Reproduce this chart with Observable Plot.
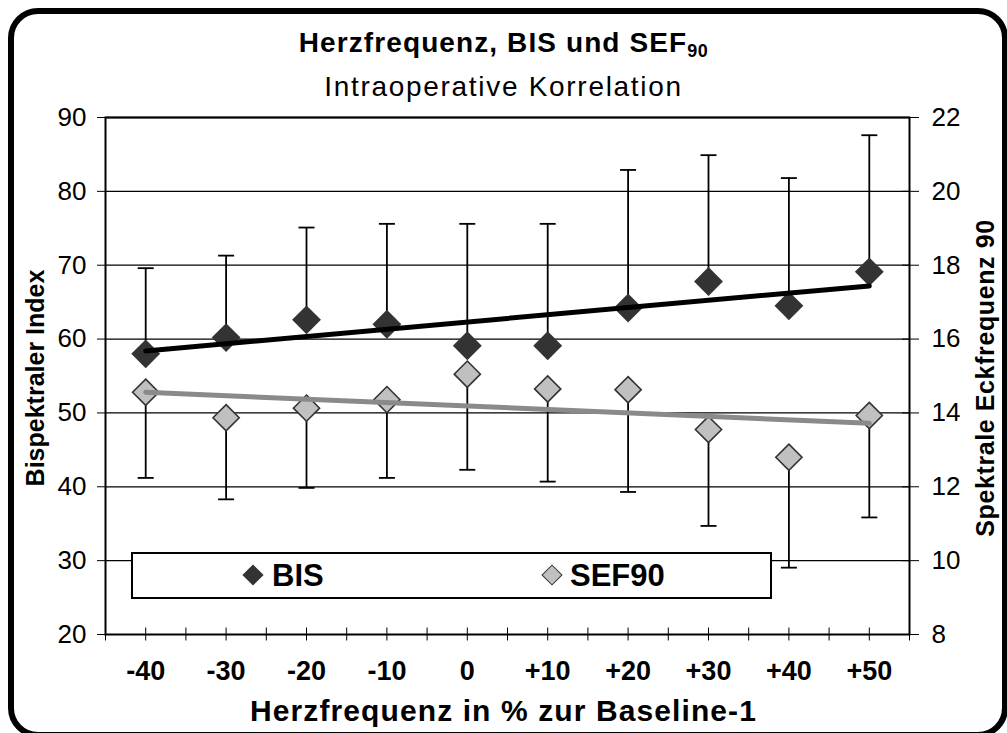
<!DOCTYPE html>
<html>
<head>
<meta charset="utf-8">
<script src="https://cdn.jsdelivr.net/npm/d3@7"></script>
<script src="https://cdn.jsdelivr.net/npm/@observablehq/plot@0.6"></script>
<style>
  html, body { margin: 0; padding: 0; background: #fff; }
  #wrap { position: relative; width: 1007px; height: 733px; overflow: hidden; font-family: "Liberation Sans", Arial, sans-serif; color: #000; }
  #chart { position: absolute; left: 0; top: 0; }
  .abs { position: absolute; white-space: nowrap; }
  #frame { position: absolute; left: 8px; top: 8px; width: 1000px; height: 730px; box-sizing: border-box; border: 6px solid #000; border-radius: 30px; pointer-events: none; }
  #title { left: 0; width: 1007px; text-align: center; top: 27px; font-size: 28px; font-weight: bold; letter-spacing: 1.1px; }
  #title sub { font-size: 18px; vertical-align: baseline; position: relative; top: 5px; letter-spacing: 0.5px; }
  #subtitle { left: 0; width: 1007px; text-align: center; top: 71px; font-size: 28px; letter-spacing: 1.7px; }
  #xtitle { left: 0; width: 1007px; text-align: center; top: 694px; font-size: 30px; font-weight: bold; letter-spacing: 1.1px; }
  .ytitle { font-size: 25px; font-weight: bold; transform: translate(-50%, -50%) rotate(-90deg); }
  #legend { left: 131px; top: 552px; width: 641px; height: 47px; box-sizing: border-box; border: 2px solid #000; background: #fff; }
  .ldia { position: absolute; width: 15px; height: 15px; transform: translate(-50%, -50%) rotate(45deg); box-sizing: border-box; }
  .ltxt { position: absolute; top: 50%; transform: translateY(-50%); font-size: 31px; font-weight: bold; }
</style>
</head>
<body>
<div id="wrap">
  <div id="chart"></div>
  <div class="abs" id="title">Herzfrequenz, BIS und SEF<sub>90</sub></div>
  <div class="abs" id="subtitle">Intraoperative Korrelation</div>
  <div class="abs" id="xtitle">Herzfrequenz in % zur Baseline-1</div>
  <div class="abs ytitle" style="left:35px; top:378px;">Bispektraler Index</div>
  <div class="abs ytitle" style="left:985px; top:378px; letter-spacing: 0.6px;">Spektrale Eckfrequenz 90</div>
  <div class="abs" id="legend">
    <div class="ldia" style="left:120px; top:21px; background:#333;"></div>
    <div class="ltxt" style="left:139px;">BIS</div>
    <div class="ldia" style="left:419px; top:21px; background:#c0c0c0; border:1.5px solid #333;"></div>
    <div class="ltxt" style="left:437px;">SEF90</div>
  </div>
  <div id="frame"></div>
</div>
<script>
// Categories: heart rate change in % vs baseline-1
const hrChange = [-40, -30, -20, -10, 0, 10, 20, 30, 40, 50];
// Bispektraler Index (left axis): mean and upper error bar end
const bisMean = [58.0, 60.2, 62.6, 62.0, 59.1, 59.1, 64.2, 67.8, 64.5, 69.1];
const bisUpper = [69.6, 71.3, 75.1, 75.6, 75.6, 75.6, 82.9, 84.9, 81.8, 87.6];
// Spektrale Eckfrequenz 90 (right axis): mean and lower error bar end
const sefMean = [14.56, 13.87, 14.13, 14.36, 15.05, 14.65, 14.63, 13.55, 12.80, 13.93];
const sefLower = [12.24, 11.66, 11.97, 12.24, 12.46, 12.14, 11.86, 10.94, 9.81, 11.17];
// Linear trend lines (endpoints)
const trendX = [-40, 50];
const bisTrend = [58.4, 67.2];
const sefTrend = [14.56, 13.72];
// Axis ticks
const leftTicks = [20, 30, 40, 50, 60, 70, 80, 90];
const rightTicks = [8, 10, 12, 14, 16, 18, 20, 22];
const xLabelTicks = [-40, -30, -20, -10, 0, 10, 20, 30, 40, 50];
const xMinorTicks = d3.range(-45, 56, 5);

// map right-axis (SEF) values onto left-axis (BIS) scale: 8..22 <-> 20..90
const sefToLeft = v => 20 + (v - 8) * 5;
const leftToSef = v => 8 + (v - 20) / 5;

const idx = d3.range(hrChange.length);
const capSymbol = { draw(ctx) { ctx.moveTo(-8, 0); ctx.lineTo(8, 0); } };

const chart = Plot.plot({
  width: 1007,
  height: 733,
  marginLeft: 105,
  marginRight: 98,
  marginTop: 117,
  marginBottom: 99,
  style: { fontFamily: "'Liberation Sans', Arial, sans-serif", fontSize: "26px", color: "#000", background: "transparent", overflow: "visible" },
  x: { domain: [-45, 55], label: null },
  y: { domain: [20, 90], label: null },
  marks: [
    Plot.ruleY(leftTicks.slice(1), { stroke: "#000", strokeWidth: 1.3 }),
    Plot.frame({ stroke: "#000", strokeWidth: 2 }),
    // left axis
    Plot.axisY({ anchor: "left", ticks: leftTicks, tickSize: 8, tickPadding: 11, tickFormat: d => String(d), fontSize: 26, label: null }),
    // right axis (crossing ticks)
    Plot.axisY({ anchor: "right", ticks: rightTicks.map(sefToLeft), tickSize: 17, dx: -8, tickPadding: 13, tickFormat: d => String(Math.round(leftToSef(d))), fontSize: 26, label: null }),
    // x axis crossing minor ticks
    Plot.axisX({ anchor: "bottom", ticks: xMinorTicks, tickSize: 13, dy: -6.5, tickFormat: () => "", label: null }),
    // x labels
    Plot.axisX({ anchor: "bottom", ticks: xLabelTicks, tickSize: 0, tickPadding: 26, tickFormat: d => d > 0 ? "+" + d : String(d), fontSize: 27, fontWeight: "bold", label: null }),
    // BIS error bars (upward)
    Plot.ruleX(idx, { x: i => hrChange[i], y1: i => bisMean[i], y2: i => bisUpper[i], stroke: "#000", strokeWidth: 1.8 }),
    Plot.dot(idx, { x: i => hrChange[i], y: i => bisUpper[i], symbol: capSymbol, stroke: "#000", strokeWidth: 1.8, fill: "none" }),
    // SEF error bars (downward)
    Plot.ruleX(idx, { x: i => hrChange[i], y1: i => sefToLeft(sefMean[i]), y2: i => sefToLeft(sefLower[i]), stroke: "#000", strokeWidth: 1.8 }),
    Plot.dot(idx, { x: i => hrChange[i], y: i => sefToLeft(sefLower[i]), symbol: capSymbol, stroke: "#000", strokeWidth: 1.8, fill: "none" }),
    // markers
    Plot.dot(idx, { x: i => hrChange[i], y: i => bisMean[i], symbol: "diamond2", r: 13, fill: "#333333", stroke: "none" }),
    Plot.dot(idx, { x: i => hrChange[i], y: i => sefToLeft(sefMean[i]), symbol: "diamond2", r: 11.8, fill: "#c0c0c0", stroke: "#333333", strokeWidth: 1.6 }),
    // trend lines
    Plot.line(d3.range(trendX.length), { x: i => trendX[i], y: i => bisTrend[i], stroke: "#000", strokeWidth: 5 }),
    Plot.line(d3.range(trendX.length), { x: i => trendX[i], y: i => sefToLeft(sefTrend[i]), stroke: "#8a8a8a", strokeWidth: 5 })
  ]
});
document.getElementById("chart").appendChild(chart);
</script>
</body>
</html>
